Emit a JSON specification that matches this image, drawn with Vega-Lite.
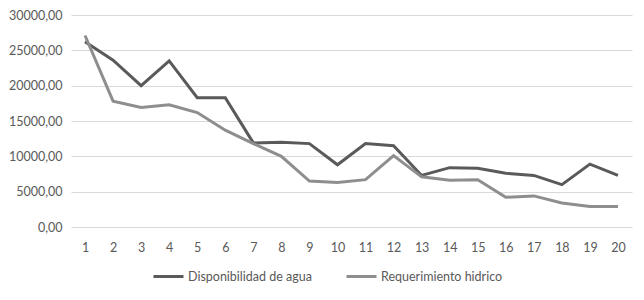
{
  "$schema": "https://vega.github.io/schema/vega-lite/v6.json",
  "width": 561,
  "height": 212,
  "padding": {"left": 8, "top": 9, "right": 5, "bottom": 5},
  "background": "white",
  "config": {
    "locale": {"number": {"decimal": ",", "thousands": ".", "grouping": [3], "currency": ["", ""]}},
    "font": "Lato",
    "view": {"stroke": null}
  },
  "data": {
    "values": [
      {"t": 1, "serie": "Disponibilidad de agua", "v": 26200},
      {"t": 2, "serie": "Disponibilidad de agua", "v": 23600},
      {"t": 3, "serie": "Disponibilidad de agua", "v": 20000},
      {"t": 4, "serie": "Disponibilidad de agua", "v": 23500},
      {"t": 5, "serie": "Disponibilidad de agua", "v": 18300},
      {"t": 6, "serie": "Disponibilidad de agua", "v": 18300},
      {"t": 7, "serie": "Disponibilidad de agua", "v": 11900},
      {"t": 8, "serie": "Disponibilidad de agua", "v": 12000},
      {"t": 9, "serie": "Disponibilidad de agua", "v": 11800},
      {"t": 10, "serie": "Disponibilidad de agua", "v": 8800},
      {"t": 11, "serie": "Disponibilidad de agua", "v": 11800},
      {"t": 12, "serie": "Disponibilidad de agua", "v": 11500},
      {"t": 13, "serie": "Disponibilidad de agua", "v": 7300},
      {"t": 14, "serie": "Disponibilidad de agua", "v": 8400},
      {"t": 15, "serie": "Disponibilidad de agua", "v": 8300},
      {"t": 16, "serie": "Disponibilidad de agua", "v": 7600},
      {"t": 17, "serie": "Disponibilidad de agua", "v": 7300},
      {"t": 18, "serie": "Disponibilidad de agua", "v": 6000},
      {"t": 19, "serie": "Disponibilidad de agua", "v": 8900},
      {"t": 20, "serie": "Disponibilidad de agua", "v": 7300},
      {"t": 1, "serie": "Requerimiento hidrico", "v": 27100},
      {"t": 2, "serie": "Requerimiento hidrico", "v": 17800},
      {"t": 3, "serie": "Requerimiento hidrico", "v": 16900},
      {"t": 4, "serie": "Requerimiento hidrico", "v": 17300},
      {"t": 5, "serie": "Requerimiento hidrico", "v": 16200},
      {"t": 6, "serie": "Requerimiento hidrico", "v": 13700},
      {"t": 7, "serie": "Requerimiento hidrico", "v": 11800},
      {"t": 8, "serie": "Requerimiento hidrico", "v": 10000},
      {"t": 9, "serie": "Requerimiento hidrico", "v": 6500},
      {"t": 10, "serie": "Requerimiento hidrico", "v": 6300},
      {"t": 11, "serie": "Requerimiento hidrico", "v": 6700},
      {"t": 12, "serie": "Requerimiento hidrico", "v": 10100},
      {"t": 13, "serie": "Requerimiento hidrico", "v": 7100},
      {"t": 14, "serie": "Requerimiento hidrico", "v": 6600},
      {"t": 15, "serie": "Requerimiento hidrico", "v": 6700},
      {"t": 16, "serie": "Requerimiento hidrico", "v": 4200},
      {"t": 17, "serie": "Requerimiento hidrico", "v": 4400},
      {"t": 18, "serie": "Requerimiento hidrico", "v": 3400},
      {"t": 19, "serie": "Requerimiento hidrico", "v": 2900},
      {"t": 20, "serie": "Requerimiento hidrico", "v": 2900}
    ]
  },
  "mark": {"type": "line", "strokeWidth": 3},
  "encoding": {
    "x": {
      "field": "t", "type": "ordinal",
      "scale": {"type": "point", "padding": 0.5},
      "axis": {"title": null, "labelAngle": 0, "domain": false, "ticks": false, "labelPadding": 14, "labelFontSize": 12.5, "labelColor": "#595959"}
    },
    "y": {
      "field": "v", "type": "quantitative",
      "scale": {"domain": [0, 30000]},
      "axis": {"title": null, "values": [0, 5000, 10000, 15000, 20000, 25000, 30000], "format": ".2f", "domain": false, "ticks": false, "labelPadding": 9, "labelFontSize": 12.5, "labelColor": "#595959", "gridColor": "#d9d9d9", "gridWidth": 1}
    },
    "color": {
      "field": "serie", "type": "nominal",
      "scale": {"domain": ["Disponibilidad de agua", "Requerimiento hidrico"], "range": ["#5a5a5a", "#8e8e8e"]},
      "legend": {"title": null, "orient": "none", "legendX": 81, "legendY": 245, "direction": "horizontal", "symbolType": "stroke", "symbolStrokeWidth": 3, "symbolSize": 900, "labelFontSize": 12.5, "labelColor": "#595959", "columnPadding": 28, "labelOffset": 3}
    }
  }
}
